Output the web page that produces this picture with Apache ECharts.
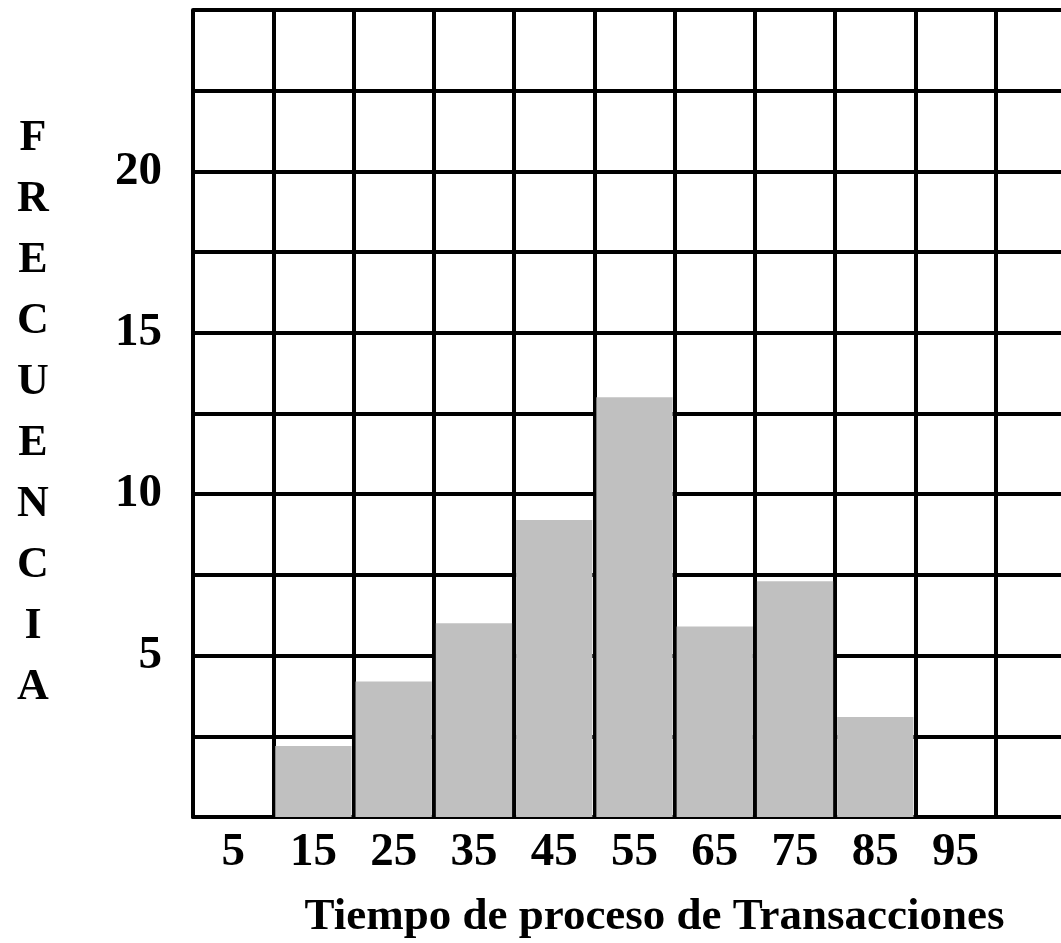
<!DOCTYPE html>
<html>
<head>
<meta charset="utf-8">
<script src="https://cdn.jsdelivr.net/npm/echarts@6/dist/echarts.min.js"></script>
<style>html,body{margin:0;padding:0;background:#fff;}#c{width:1061px;height:943px;}</style>
</head>
<body>
<div id="c"></div>
<script>
var categories = ['5', '15', '25', '35', '45', '55', '65', '75', '85', '95', ''];
var frequencies = [0, 2.2, 4.2, 6.0, 9.2, 13.0, 5.9, 7.3, 3.1, 0, 0];
var yTickLabels = [5, 10, 15, 20];
var yAxisTitle = 'FRECUENCIA';
var xAxisTitle = 'Tiempo de proceso de Transacciones';

var FONT = '"Liberation Serif", "DejaVu Serif", serif';
var chart = echarts.init(document.getElementById('c'));
chart.setOption({
  animation: false,
  backgroundColor: '#ffffff',
  grid: { left: 193, width: 883, top: 10, bottom: 126, containLabel: false, outerBoundsMode: 'none' },
  xAxis: {
    type: 'category',
    data: categories,
    boundaryGap: true,
    axisLine: { show: true, lineStyle: { color: '#000', width: 4 } },
    axisTick: { show: false },
    splitLine: { show: true, interval: 0, lineStyle: { color: '#000', width: 4 } },
    axisLabel: { interval: 0, color: '#000', fontFamily: FONT, fontWeight: 'bold', fontSize: 47, margin: 12 },
    name: xAxisTitle,
    nameLocation: 'middle',
    nameGap: 100,
    nameTextStyle: { color: '#000', fontFamily: FONT, fontWeight: 'bold', fontSize: 45, verticalAlign: 'middle', padding: [0, 0, 0, 40] }
  },
  yAxis: {
    type: 'value',
    min: 0,
    max: 25,
    interval: 2.5,
    axisLine: { show: true, lineStyle: { color: '#000', width: 4 } },
    axisTick: { show: false },
    splitLine: { show: true, lineStyle: { color: '#000', width: 4 } },
    axisLabel: {
      color: '#000', fontFamily: FONT, fontWeight: 'bold', fontSize: 47, margin: 31,
      formatter: function (v) { return yTickLabels.indexOf(v) >= 0 ? String(v) : ''; }
    },
    name: yAxisTitle.split('').join('\n'),
    nameLocation: 'middle',
    nameRotate: 0,
    nameGap: 160,
    nameTextStyle: { color: '#000', fontFamily: FONT, fontWeight: 'bold', fontSize: 44, lineHeight: 61, align: 'center', verticalAlign: 'middle' }
  },
  series: [{
    type: 'bar',
    data: frequencies,
    barCategoryGap: '5%',
    itemStyle: { color: '#c0c0c0' },
    silent: true
  }]
});
</script>
</body>
</html>
